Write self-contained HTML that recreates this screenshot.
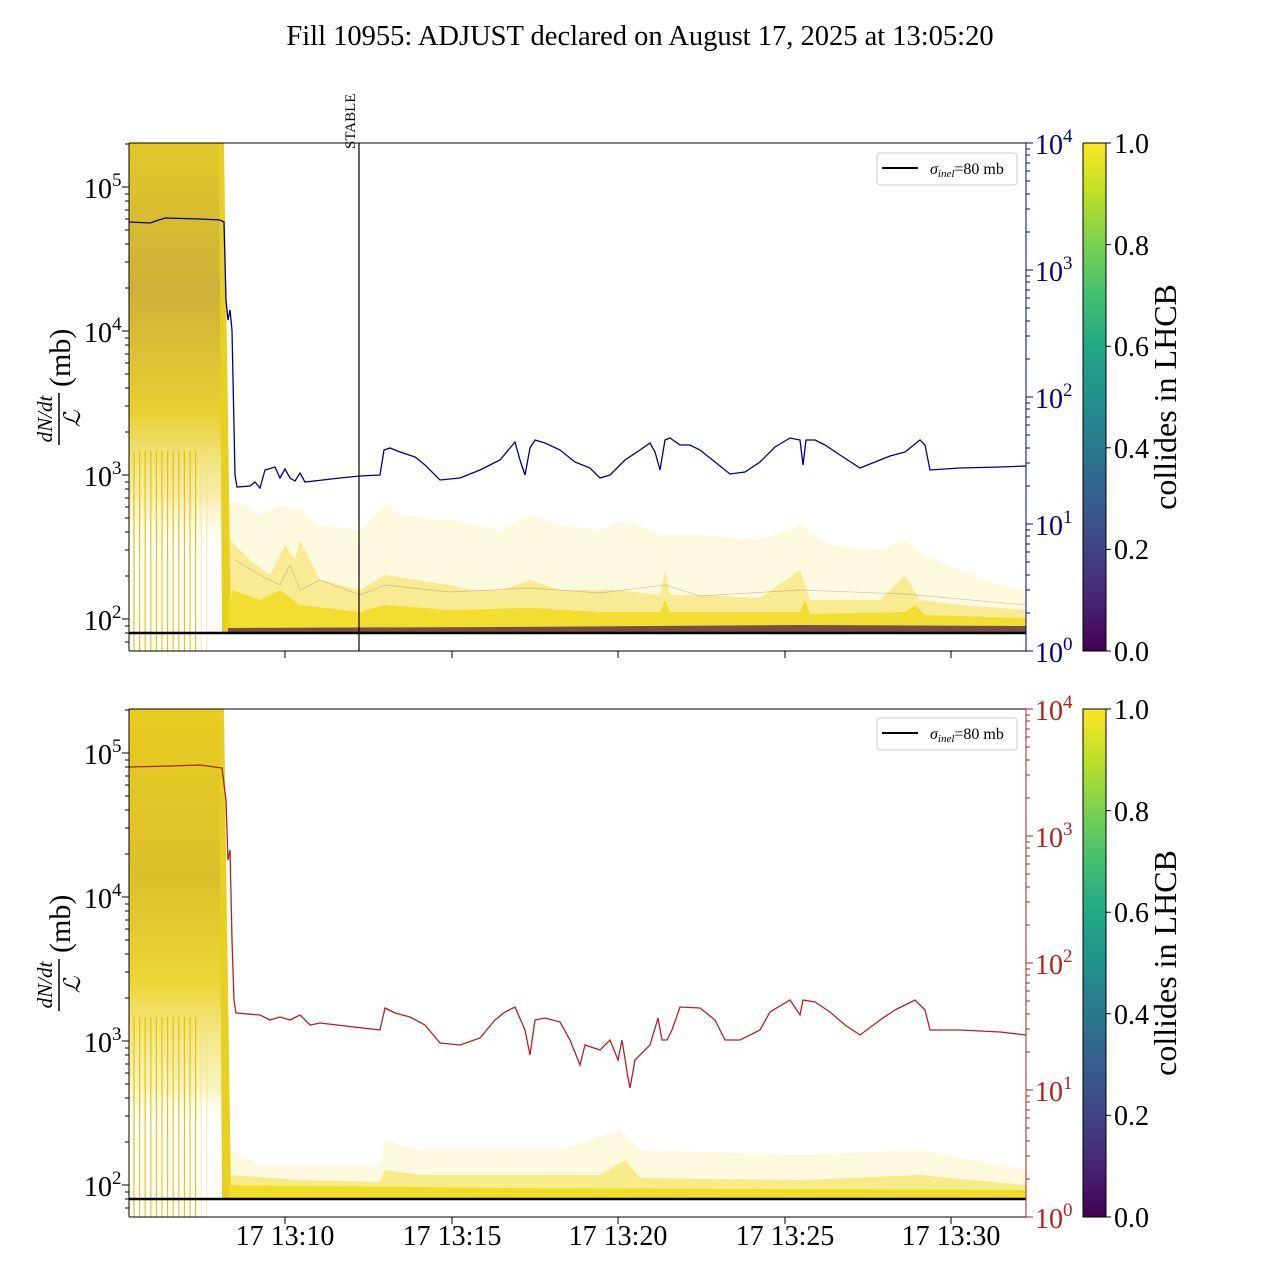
<!DOCTYPE html>
<html><head><meta charset="utf-8"><style>
html,body{margin:0;padding:0;background:#fff}
svg{display:block}
text{font-family:"Liberation Serif",serif}
</style></head><body>
<svg width="1280" height="1280" xmlns="http://www.w3.org/2000/svg">
<defs>
<linearGradient id="vir" x1="0" y1="1" x2="0" y2="0">
<stop offset="0" stop-color="#440154"/><stop offset="0.1" stop-color="#482475"/><stop offset="0.2" stop-color="#414487"/><stop offset="0.3" stop-color="#355f8d"/><stop offset="0.4" stop-color="#2a788e"/><stop offset="0.5" stop-color="#21918c"/><stop offset="0.6" stop-color="#22a884"/><stop offset="0.7" stop-color="#44bf70"/><stop offset="0.8" stop-color="#7ad151"/><stop offset="0.9" stop-color="#bddf26"/><stop offset="1" stop-color="#fde725"/>
</linearGradient>
<linearGradient id="early1" x1="0" y1="143" x2="0" y2="560" gradientUnits="userSpaceOnUse">
<stop offset="0" stop-color="#e2c82a"/><stop offset="0.35" stop-color="#cfb038"/><stop offset="0.65" stop-color="#e8d032"/><stop offset="0.85" stop-color="#f3e27a" stop-opacity="0.6"/><stop offset="1" stop-color="#fff" stop-opacity="0"/>
</linearGradient>
<linearGradient id="early2" x1="0" y1="709" x2="0" y2="1130" gradientUnits="userSpaceOnUse">
<stop offset="0" stop-color="#e8cc20"/><stop offset="0.4" stop-color="#dcc02a"/><stop offset="0.65" stop-color="#ecd636"/><stop offset="0.9" stop-color="#f5e680" stop-opacity="0.5"/><stop offset="1" stop-color="#fff" stop-opacity="0"/>
</linearGradient>
<g id="vl">
<path d="M134,0v200M139.6,0v200M145.2,0v200M150.8,0v200M156.4,0v200M162,0v200M167.6,0v200M173.2,0v200M178.8,0v200M184.4,0v200M190,0v200M195.6,0v200" stroke="#e0c000" stroke-width="1.2" opacity="0.9"/>
<path d="M201.2,0v200M206.8,0v200" stroke="#f0e090" stroke-width="1.2" opacity="0.6"/>
</g>
<path id="lt" d="M122,187h7M122,331h7M122,475h7M122,619h7M125,626h4M125,633h4M125,642h4M125,576h4M125,550h4M125,532h4M125,518h4M125,507h4M125,498h4M125,489h4M125,482h4M125,432h4M125,406h4M125,388h4M125,374h4M125,363h4M125,354h4M125,345h4M125,338h4M125,288h4M125,262h4M125,244h4M125,230h4M125,219h4M125,210h4M125,201h4M125,194h4M125,144h4M285,651v7M452,651v7M618,651v7M785,651v7M951,651v7M1106,143h5M1106,244.6h5M1106,346.2h5M1106,447.8h5M1106,549.4h5M1106,651h5" stroke="#000" fill="none"/>
<path id="rt" d="M1026,143h7M1026,270h7M1026,397h7M1026,524h7M1026,651h7M1026,613h4M1026,590h4M1026,575h4M1026,562h4M1026,552h4M1026,544h4M1026,536h4M1026,530h4M1026,486h4M1026,463h4M1026,448h4M1026,435h4M1026,425h4M1026,417h4M1026,409h4M1026,403h4M1026,359h4M1026,336h4M1026,321h4M1026,308h4M1026,298h4M1026,290h4M1026,282h4M1026,276h4M1026,232h4M1026,209h4M1026,194h4M1026,181h4M1026,171h4M1026,163h4M1026,155h4M1026,149h4M1026,143V651" fill="none"/>
</defs>

<text x="640" y="45" font-size="28.5" text-anchor="middle">Fill 10955: ADJUST declared on August 17, 2025 at 13:05:20</text>

<!-- top panel data -->
<rect x="129" y="143" width="95" height="417" fill="url(#early1)"/>
<use href="#vl" transform="translate(0,451)"/>
<polygon points="219,143 224,143 231,629 228,633 222,633" fill="#e8d020"/>
<polygon points="228,633 228,500 245,505 260,515 280,505 300,510 320,525 360,530 385,505 400,515 450,520 500,530 530,515 560,525 600,530 625,520 660,535 700,535 760,540 800,525 830,545 880,550 905,540 925,555 960,570 1000,585 1026,590 1026,633" fill="#f5e050" opacity="0.18"/>
<polygon points="228,633 230,540 250,560 270,575 285,545 295,560 300,540 320,580 360,590 385,575 450,585 470,590 500,590 530,580 560,590 620,590 660,595 665,570 670,595 700,595 760,598 800,570 810,600 880,600 905,575 920,600 960,605 1026,610 1026,633" fill="#f0d820" opacity="0.4"/>
<polygon points="228,633 232,590 260,600 280,590 300,605 360,612 385,605 450,610 530,608 600,612 660,612 665,600 670,612 800,612 805,600 810,614 905,612 915,605 925,615 1026,618 1026,633" fill="#f0dc1e" opacity="0.85"/>
<polyline points="235,560 260,575 280,585 290,565 300,590 320,580 360,595 385,585 450,592 530,588 600,593 665,585 700,596 800,590 905,594 1026,605" fill="none" stroke="#8a7a6a" stroke-width="0.7" opacity="0.4"/>
<polygon points="228,633 228,628 500,627 800,625 1026,626 1026,633" fill="#5a2a4a" opacity="0.8"/>
<line x1="129" y1="633" x2="1026" y2="633" stroke="#000" stroke-width="2.5"/>
<polyline points="129,222 150,223 165,218 200,219 220,220 224,222 226,300 228,320 230,310 232,330 235,475 237,487 250,486 255,482 260,488 265,470 275,467 280,478 285,469 290,478 295,481 300,473 305,482 340,478 360,476 380,475 384,450 390,448 400,452 415,457 425,465 440,480 460,478 480,470 500,460 510,448 515,442 520,460 525,475 530,448 535,440 545,443 560,450 575,462 590,468 600,478 610,475 625,460 640,450 650,443 655,452 660,470 665,440 670,438 680,445 690,445 700,450 715,462 730,474 745,472 760,462 775,447 790,438 800,440 803,465 806,440 815,440 825,445 840,455 860,468 875,462 890,456 905,452 915,444 920,440 925,445 930,470 960,468 1000,467 1026,466" fill="none" stroke="#00008b" stroke-width="1.3"/>

<!-- bottom panel data -->
<rect x="129" y="709" width="95" height="421" fill="url(#early2)"/>
<use href="#vl" transform="translate(0,1017)"/>
<polygon points="219,709 224,709 231,1195 228,1199 222,1199" fill="#e8d020"/>
<polygon points="228,1199 230,1150 260,1165 380,1165 385,1140 420,1150 500,1150 560,1150 620,1130 640,1150 800,1155 920,1150 1026,1170 1026,1199" fill="#f5e050" opacity="0.18"/>
<polygon points="228,1199 230,1175 300,1180 380,1182 385,1170 420,1175 600,1175 625,1160 640,1178 800,1180 920,1175 1026,1185 1026,1199" fill="#f0d820" opacity="0.45"/>
<polygon points="228,1199 230,1185 500,1188 1026,1190 1026,1199" fill="#f0dc1e" opacity="0.9"/>
<line x1="129" y1="1199" x2="1026" y2="1199" stroke="#000" stroke-width="2.5"/>
<polyline points="129,767 170,766 200,765 222,768 226,800 228,860 230,850 232,940 234,1000 236,1013 260,1015 270,1020 280,1017 290,1020 300,1015 310,1025 320,1023 380,1030 385,1008 395,1013 410,1017 425,1025 440,1043 460,1045 480,1038 495,1020 505,1012 515,1007 525,1030 530,1055 535,1020 545,1018 560,1022 570,1040 580,1065 585,1045 600,1050 610,1040 618,1060 622,1040 628,1078 630,1088 635,1060 650,1045 658,1018 662,1040 667,1040 672,1030 680,1007 700,1008 715,1020 725,1040 740,1040 760,1030 770,1012 790,1000 800,1015 803,1000 815,1002 830,1012 845,1025 860,1035 880,1020 895,1010 915,1000 925,1010 930,1030 960,1030 1000,1032 1026,1035" fill="none" stroke="#b22222" stroke-width="1.3"/>

<!-- frames -->
<path d="M129,143H1026M129,651H1026M129,143V651" stroke="#000" fill="none"/>
<path d="M129,709H1026M129,1217H1026M129,709V1217" stroke="#000" fill="none"/>
<use href="#lt"/>
<use href="#lt" transform="translate(0,566)"/>
<use href="#rt" stroke="#00008b"/>
<use href="#rt" stroke="#b22222" transform="translate(0,566)"/>

<!-- STABLE -->
<line x1="359" y1="143" x2="359" y2="651" stroke="#000" stroke-width="1.2"/>
<text transform="translate(355,149) rotate(-90)" font-size="15">STABLE</text>

<g font-size="28">
<text x="84" y="198">10<tspan font-size="19" dy="-12">5</tspan></text>
<text x="84" y="342">10<tspan font-size="19" dy="-12">4</tspan></text>
<text x="84" y="486">10<tspan font-size="19" dy="-12">3</tspan></text>
<text x="84" y="630">10<tspan font-size="19" dy="-12">2</tspan></text>
<text x="84" y="764">10<tspan font-size="19" dy="-12">5</tspan></text>
<text x="84" y="908">10<tspan font-size="19" dy="-12">4</tspan></text>
<text x="84" y="1052">10<tspan font-size="19" dy="-12">3</tspan></text>
<text x="84" y="1196">10<tspan font-size="19" dy="-12">2</tspan></text>
</g>
<g font-size="28" fill="#00008b">
<text x="1035" y="154">10<tspan font-size="19" dy="-12">4</tspan></text>
<text x="1035" y="281">10<tspan font-size="19" dy="-12">3</tspan></text>
<text x="1035" y="408">10<tspan font-size="19" dy="-12">2</tspan></text>
<text x="1035" y="535">10<tspan font-size="19" dy="-12">1</tspan></text>
<text x="1035" y="662">10<tspan font-size="19" dy="-12">0</tspan></text>
</g>
<g font-size="28" fill="#b22222">
<text x="1035" y="720">10<tspan font-size="19" dy="-12">4</tspan></text>
<text x="1035" y="847">10<tspan font-size="19" dy="-12">3</tspan></text>
<text x="1035" y="974">10<tspan font-size="19" dy="-12">2</tspan></text>
<text x="1035" y="1101">10<tspan font-size="19" dy="-12">1</tspan></text>
<text x="1035" y="1228">10<tspan font-size="19" dy="-12">0</tspan></text>
</g>
<g transform="translate(62,397) rotate(-90)">
<text x="-22" y="-10" font-size="21" font-style="italic" text-anchor="middle">dN/dt</text>
<line x1="-48" y1="-3" x2="4" y2="-3" stroke="#000" stroke-width="1.5"/>
<text x="-22" y="18" font-size="23" font-style="italic" text-anchor="middle">ℒ</text>
<text x="10" y="8" font-size="30">(mb)</text>
</g>
<g transform="translate(62,963) rotate(-90)">
<text x="-22" y="-10" font-size="21" font-style="italic" text-anchor="middle">dN/dt</text>
<line x1="-48" y1="-3" x2="4" y2="-3" stroke="#000" stroke-width="1.5"/>
<text x="-22" y="18" font-size="23" font-style="italic" text-anchor="middle">ℒ</text>
<text x="10" y="8" font-size="30">(mb)</text>
</g>
<g font-size="28" text-anchor="middle">
<text x="285" y="1245">17 13:10</text>
<text x="452" y="1245">17 13:15</text>
<text x="618" y="1245">17 13:20</text>
<text x="785" y="1245">17 13:25</text>
<text x="951" y="1245">17 13:30</text>
</g>
<rect x="877" y="153" width="140" height="32" rx="3" fill="#fff" stroke="#ccc"/>
<line x1="882" y1="168" x2="918" y2="168" stroke="#000" stroke-width="2"/>
<text x="930" y="174" font-size="16"><tspan font-style="italic">σ</tspan><tspan font-style="italic" font-size="11" dy="3">inel</tspan><tspan dy="-3">=80 mb</tspan></text>
<rect x="877" y="718" width="140" height="32" rx="3" fill="#fff" stroke="#ccc"/>
<line x1="882" y1="733" x2="918" y2="733" stroke="#000" stroke-width="2"/>
<text x="930" y="739" font-size="16"><tspan font-style="italic">σ</tspan><tspan font-style="italic" font-size="11" dy="3">inel</tspan><tspan dy="-3">=80 mb</tspan></text>

<rect x="1083" y="143" width="23" height="508" fill="url(#vir)" stroke="#000"/>
<rect x="1083" y="709" width="23" height="508" fill="url(#vir)" stroke="#000"/>
<g font-size="28">
<text x="1114" y="153">1.0</text><text x="1114" y="255">0.8</text><text x="1114" y="356">0.6</text><text x="1114" y="458">0.4</text><text x="1114" y="559">0.2</text><text x="1114" y="661">0.0</text>
<text x="1114" y="719">1.0</text><text x="1114" y="821">0.8</text><text x="1114" y="922">0.6</text><text x="1114" y="1024">0.4</text><text x="1114" y="1125">0.2</text><text x="1114" y="1227">0.0</text>
</g>
<text transform="translate(1176,397) rotate(-90)" font-size="32" text-anchor="middle">collides in LHCB</text>
<text transform="translate(1176,963) rotate(-90)" font-size="32" text-anchor="middle">collides in LHCB</text>
</svg>
</body></html>
